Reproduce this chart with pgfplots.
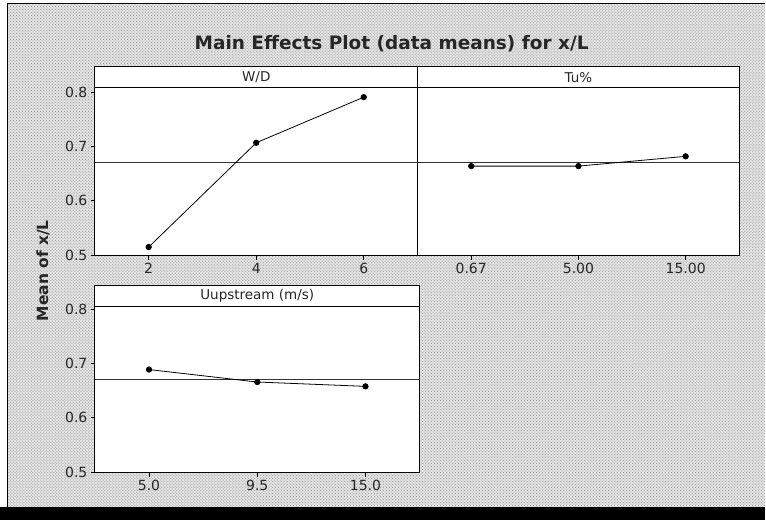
\documentclass[border=0pt]{standalone}
\usepackage{pgfplots}
\pgfplotsset{compat=1.18}
\usepackage{fontspec}
\setmainfont{DejaVu Sans}
\usetikzlibrary{patterns}

\pgfplotsset{
  mepanel/.style={
    scale only axis,
    axis background/.style={fill=white},
    xmin=-0.5, xmax=2.5, xtick={0,1,2},
    tick align=outside, xtick pos=bottom, ytick pos=left,
    major tick length=4pt,
    tick style={black, line width=0.8pt},
    axis line style={line width=1pt},
    ticklabel style={font=\fontsize{14}{16}\selectfont, black!85},
    /pgf/number format/assume math mode=true,
    ytick={0.5,0.6,0.7,0.8},
    yticklabel style={/pgf/number format/fixed, /pgf/number format/precision=1},
    clip=false,
  },
}

\newcommand{\header}[1]{%
  \draw[fill=white, line width=1pt] (rel axis cs:0,1) rectangle ([yshift=21pt]rel axis cs:1,1);
  \node[font=\fontsize{13.5}{16}\selectfont, black!85] at ([yshift=10.5pt]rel axis cs:0.5,1) {#1};
}

\begin{document}
\begin{tikzpicture}[x=1pt,y=1pt]
\fill[white] (0,0) rectangle (766,521);
\fill[gray!22] (7,13) rectangle (766,517);
\fill[pattern=crosshatch dots, pattern color=gray!85] (7,13) rectangle (766,517);
\fill[black] (0,0) rectangle (766,13);
\draw[black, line width=1.5pt] (7.5,13) -- (7.5,517.25) -- (766,517.25);

\node[font=\fontsize{18.5}{22}\selectfont\bfseries, black!85] at (392,477) {Main Effects Plot (data means) for x/L};
\node[font=\fontsize{15.5}{18}\selectfont\bfseries, black!85, rotate=90] at (43,250) {Mean of x/L};

% W/D panel
\begin{axis}[mepanel, at={(95pt,265pt)}, anchor=south west,
  width=323pt, height=168pt, ymin=0.499, ymax=0.808,
  xticklabels={2,4,6}]
\addplot[black!80, line width=1.2pt] coordinates {(-0.5,0.671) (2.5,0.671)};
\addplot[black, line width=0.8pt, mark=*, mark size=2.7pt] coordinates {(0,0.515) (1,0.707) (2,0.791)};
\header{W/D}
\end{axis}

% Tu% panel
\begin{axis}[mepanel, at={(418pt,265pt)}, anchor=south west,
  width=322pt, height=168pt, ymin=0.499, ymax=0.808,
  ytick=\empty,
  xticklabels={0.67,5.00,15.00}]
\addplot[black!80, line width=1.2pt] coordinates {(-0.5,0.671) (2.5,0.671)};
\addplot[black, line width=0.8pt, mark=*, mark size=2.7pt] coordinates {(0,0.664) (1,0.664) (2,0.682)};
\header{Tu\%}
\end{axis}

% Uupstream panel
\begin{axis}[mepanel, at={(95pt,48pt)}, anchor=south west,
  width=325pt, height=166pt, ymin=0.499, ymax=0.805,
  xticklabels={5.0,9.5,15.0}]
\addplot[black!80, line width=1.2pt] coordinates {(-0.5,0.671) (2.5,0.671)};
\addplot[black, line width=0.8pt, mark=*, mark size=2.7pt] coordinates {(0,0.689) (1,0.666) (2,0.658)};
\header{Uupstream (m/s)}
\end{axis}
\end{tikzpicture}
\end{document}
